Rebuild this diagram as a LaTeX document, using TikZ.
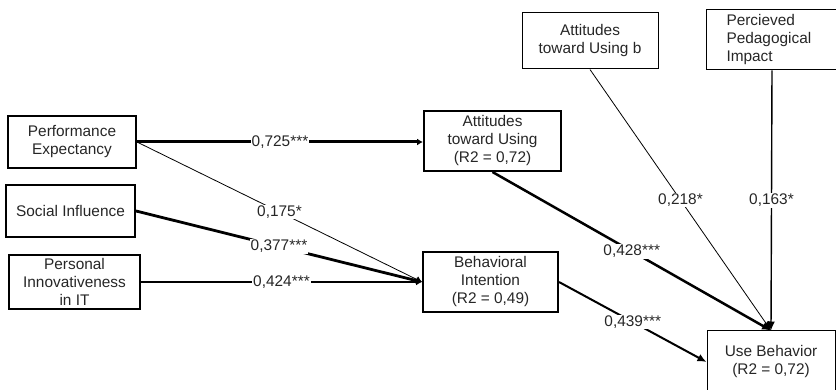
\documentclass[tikz,border=0pt]{standalone}
\usepackage{fontspec}
\setmainfont{Liberation Sans}
\usetikzlibrary{arrows.meta}
\begin{document}
\begin{tikzpicture}[x=1pt,y=-1pt,
  font=\fontsize{15.4}{18}\selectfont,
  box/.style={draw, line width=#1, rectangle, inner sep=0pt, align=center, text=black!85},
  box/.default=2pt,
  lbl/.style={fill=white, inner sep=1pt, text=black!85},
  tipA/.style={-{Latex[length=6pt,width=7pt]}},
  tipB/.style={-{Latex[length=9pt,width=8pt]}}
]
\useasboundingbox (0,0) rectangle (836,390);

\node[box, minimum width=128, minimum height=52] (pe) at (72,142) {Performance\\Expectancy};
\node[box, minimum width=129, minimum height=52] (si) at (70.5,211) {Social Influence};
\node[box, minimum width=131, minimum height=54] (pii) at (74.5,282) {Personal\\Innovativeness\\in IT};
\node[box, minimum width=137, minimum height=60] (atu) at (492.5,141) {Attitudes\\toward Using\\(R2 = 0,72)};
\node[box, minimum width=135, minimum height=60] (bi) at (490.5,282) {Behavioral\\Intention\\(R2 = 0,49)};
\node[box=1pt, minimum width=136, minimum height=56] (atub) at (590,41) {Attitudes\\toward Using b};
\node[box=1pt, minimum width=132, minimum height=60, align=left, text width=91] (ppi) at (772,40) {Percieved\\Pedagogical\\Impact};
\node[box=1pt, minimum width=128, minimum height=62] (ub) at (771,362) {Use Behavior\\(R2 = 0,72)};

\draw[tipA, line width=3pt] (pe.east) -- node[lbl]{0,725***} (pe.east -| atu.west);
\draw[tipA, line width=0.8pt] (pe.east) -- node[lbl]{0,175*} (bi.west);
\draw[tipA, line width=2.8pt] (si.east) -- node[lbl]{0,377***} (bi.west);
\draw[tipA, line width=2pt] (pii.east) -- node[lbl]{0,424***} (bi.west);

\draw[tipB, line width=2.5pt] (atu.south) -- node[lbl]{0,428***} (ub.north);
\draw[tipB, line width=2pt] (bi.east) -- node[lbl]{0,439***} (ub.west);
\draw[tipB, line width=0.8pt] (atub.south) -- node[lbl]{0,218*} (ub.north);
\draw[tipB, line width=1.4pt] (ppi.south) -- node[lbl]{0,163*} (ub.north);
\end{tikzpicture}
\end{document}
